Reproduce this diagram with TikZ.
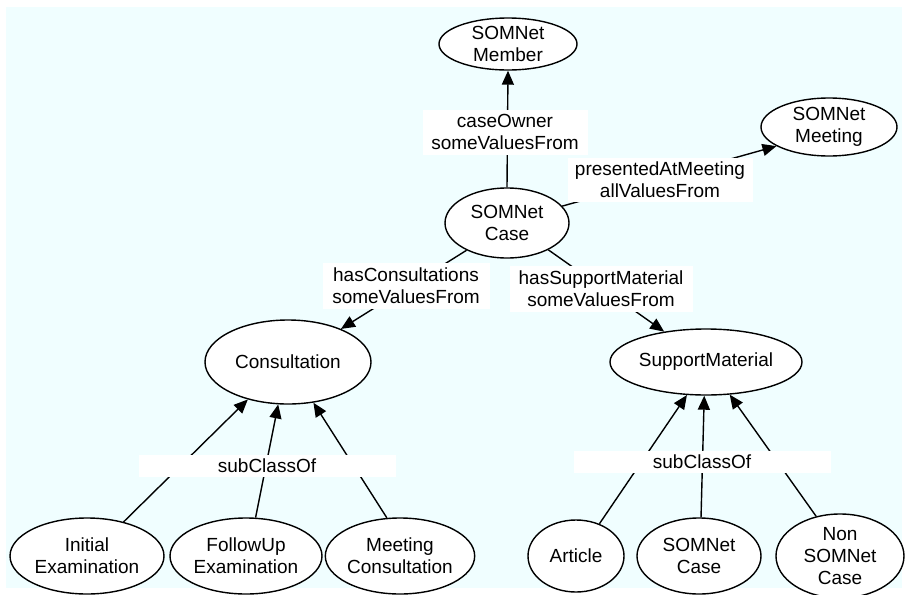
\documentclass[tikz,border=0pt]{standalone}
\usepackage{fontspec}
\setmainfont{Liberation Sans}
\usetikzlibrary{shapes.geometric,arrows.meta}
\definecolor{canvas}{RGB}{240,254,255}
\begin{document}
\begin{tikzpicture}[x=1pt,y=-1pt,
  font=\fontsize{19}{22}\selectfont,
  cls/.style={ellipse,draw,line width=1.4pt,fill=white,inner sep=0pt,align=center},
  lbl/.style={fill=white,inner sep=0pt,align=center},
  rel/.style={line width=1.4pt,-{Triangle[length=14pt,width=12pt]}}]
\useasboundingbox (0,0) rectangle (906,595);
\clip (0,0) rectangle (906,595);
\fill[canvas] (6,7) rectangle (902,588);

% classes
\node[cls,minimum width=138pt,minimum height=52pt] (member)   at (508,44)  {SOMNet\\Member};
\node[cls,minimum width=136pt,minimum height=58pt] (meeting)  at (829,127) {SOMNet\\Meeting};
\node[cls,minimum width=124pt,minimum height=70pt] (case)     at (507,223) {SOMNet\\Case};
\node[cls,minimum width=166pt,minimum height=84pt] (consult)  at (288,362) {Consultation};
\node[cls,minimum width=192pt,minimum height=66pt] (support)  at (706,362) {SupportMaterial};
\node[cls,minimum width=154pt,minimum height=76pt] (initial)  at (87,556)  {Initial\\Examination};
\node[cls,minimum width=152pt,minimum height=76pt] (followup) at (246,556) {FollowUp\\Examination};
\node[cls,minimum width=140pt,minimum height=76pt] (meetcons) at (400,556) {Meeting\\Consultation};
\node[cls,minimum width=96pt,minimum height=72pt]  (article)  at (576,556) {Article};
\node[cls,minimum width=124pt,minimum height=76pt] (somcase)  at (699,556) {SOMNet\\Case};
\node[cls,minimum width=128pt,minimum height=84pt] (nonsom)   at (840,556) {Non\\SOMNet\\Case};

% properties
\draw[rel] (case.90)    -- (member.270);
\draw[rel] (case.17)    -- (meeting.200);
\draw[rel] (case.214)   -- (consult.32);
\draw[rel] (case.-33)   -- (support.144);

% subclass links
\draw[rel] (initial.43)  -- (consult.223);
\draw[rel] (followup.76) -- (consult.257);
\draw[rel] (meetcons.109) -- (consult.302);
\draw[rel] (article.54)  -- (support.240);
\draw[rel] (somcase.87)  -- (support.267);
\draw[rel] (nonsom.121)  -- (support.306);

% edge labels
\node[lbl,minimum width=165pt,minimum height=45pt] (lowner) at (505,132) {caseOwner\\someValuesFrom};
\node[lbl,minimum width=185pt,minimum height=44pt] (lmeet)  at (660,180) {presentedAtMeeting\\allValuesFrom};
\node[lbl,minimum width=167pt,minimum height=46pt] (lcons)  at (406,286) {hasConsultations\\someValuesFrom};
\node[lbl,minimum width=183pt,minimum height=46pt] (lsupp)  at (601,289) {hasSupportMaterial\\someValuesFrom};
\node[lbl,minimum width=257pt,minimum height=22pt] (lsubl)  at (267,466) {subClassOf};
\node[lbl,minimum width=257pt,minimum height=22pt] (lsubr)  at (702,462) {subClassOf};
\end{tikzpicture}
\end{document}
